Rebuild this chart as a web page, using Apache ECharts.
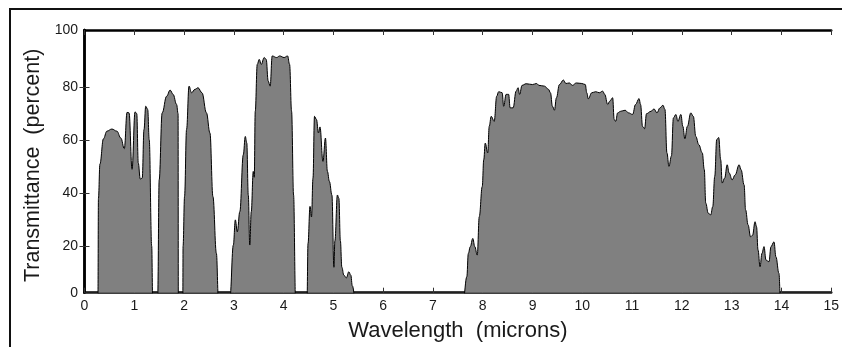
<!DOCTYPE html>
<html>
<head>
<meta charset="utf-8">
<script src="https://cdn.jsdelivr.net/npm/echarts@6/dist/echarts.min.js"></script>
<style>
  html, body { margin: 0; padding: 0; background: #fff; }
  #wrap { position: relative; width: 842px; height: 347px; overflow: hidden; }
  #frame { position: absolute; left: 9px; top: 8px; right: -4px; bottom: -4px;
           border-left: 2px solid #111; border-top: 2px solid #111; pointer-events: none; }
  #chart { position: absolute; left: 0; top: 0; width: 842px; height: 347px; }
</style>
</head>
<body>
<div id="wrap">
  <div id="chart"></div>
  <div id="frame"></div>
</div>
<script>
// wavelength in microns, transmittance in percent
const wavelength = [
  0, 0.27, 0.28, 0.31, 0.38, 0.45, 0.55, 0.65, 0.73, 0.80, 0.855, 0.895, 0.955, 1.015, 1.05,
  1.08, 1.12, 1.16, 1.195, 1.23, 1.27, 1.30, 1.35, 1.37,
  1.47, 1.50, 1.56, 1.65, 1.72, 1.78, 1.85, 1.88, 1.885,
  1.975, 1.98, 2.01, 2.05, 2.10, 2.15, 2.22, 2.28, 2.36, 2.45, 2.52, 2.58, 2.65, 2.69,
  2.92, 2.99, 3.03, 3.07, 3.12, 3.19, 3.23, 3.26, 3.29, 3.32, 3.35, 3.39, 3.41, 3.43, 3.47,
  3.51, 3.55, 3.61, 3.65, 3.69, 3.73, 3.77, 3.86, 3.92, 4.01, 4.08, 4.12, 4.16, 4.20, 4.24,
  4.47, 4.49, 4.53, 4.56, 4.59, 4.62, 4.66, 4.70, 4.73, 4.79, 4.84, 4.88, 4.92, 4.97, 5.01,
  5.03, 5.08, 5.11, 5.14, 5.17, 5.21, 5.26, 5.31, 5.35, 5.38, 5.44,
  7.61, 7.68, 7.71, 7.75, 7.80, 7.84, 7.89, 7.93, 7.99, 8.02, 8.05, 8.10, 8.13, 8.17, 8.23,
  8.28, 8.32, 8.39, 8.42, 8.47, 8.52, 8.55, 8.61, 8.67, 8.71, 8.74, 8.79, 8.87, 9.00, 9.08,
  9.13, 9.24, 9.32, 9.36, 9.40, 9.44, 9.48, 9.54, 9.62, 9.67, 9.74, 9.80, 9.88, 9.99, 10.06,
  10.09, 10.12, 10.19, 10.27, 10.34, 10.41, 10.45, 10.51, 10.55, 10.61, 10.64, 10.67, 10.71,
  10.77, 10.86, 10.93, 11.01, 11.07, 11.14, 11.17, 11.21, 11.25, 11.29, 11.38, 11.44, 11.50,
  11.56, 11.62, 11.66, 11.70, 11.74, 11.79, 11.83, 11.88, 11.92, 11.98, 12.02, 12.06, 12.11,
  12.18, 12.23, 12.28, 12.34, 12.41, 12.45, 12.48, 12.53, 12.58, 12.62, 12.66, 12.70, 12.74,
  12.78, 12.81, 12.86, 12.91, 12.95, 13.01, 13.07, 13.15, 13.19, 13.25, 13.28, 13.33, 13.38,
  13.42, 13.47, 13.50, 13.53, 13.57, 13.61, 13.65, 13.69, 13.75, 13.79, 13.85, 13.89, 13.95,
  13.98, 15
];
const transmittance = [
  0, 0, 38, 51, 60.5, 63.4, 64.2, 63.4, 60.8, 56.8, 70.5, 70.3, 49, 70.7, 70,
  51.4, 45.3, 45.7, 64, 72.8, 71.6, 60.2, 20, 0,
  0, 45, 70.3, 76.6, 78.9, 77.3, 73.5, 70, 0,
  0, 20, 38.7, 64, 80.4, 77.9, 79.2, 79.8, 77.9, 70.3, 62.7, 38.7, 17.2, 0,
  0, 20.4, 29.9, 25.4, 33, 54.5, 61.4, 59, 39.3, 20.4, 33, 48.2, 46, 70.9, 88.6,
  90.5, 88.6, 91.2, 90.5, 82.3, 80.4, 91.8, 91.2, 91.8, 91.2, 91.8, 88.6, 70.9, 39.3, 0,
  0, 21, 35, 31, 45.7, 69, 67.8, 62.7, 65, 52, 60.8, 48.2, 44.4, 39.3, 12,
  22, 39.3, 38, 22, 12, 9, 8, 10.3, 9, 5, 0,
  0, 8.4, 17.2, 19.8, 22.9, 19.8, 16.6, 31.1, 42.5, 52.6, 58.9, 55.2, 65.2, 69, 67.1,
  76.6, 78.3, 77.9, 72.8, 77.3, 77.3, 72.2, 72.2, 78.5, 79.8, 77.3, 80.7, 81.3, 81, 81.4,
  80.7, 80.4, 79.2, 77.9, 72.8, 71.3, 76, 81, 82.7, 81.4, 81.6, 80.7, 81.6, 81.4, 81,
  77.9, 75.6, 77.9, 78.3, 77.9, 78.5, 77.3, 73.5, 74.7, 76, 67.8, 67.1, 70.3,
  70.9, 71.3, 70.3, 69.7, 73.5, 75.7, 73.5, 65.2, 64.3, 70, 70.9, 71.8, 70.3,
  72.2, 73.2, 71.6, 55.2, 50.1, 54, 68.4, 69.7, 67.1, 69.7, 65.2, 60.5, 65.2,
  70.3, 69, 61.4, 58.3, 55.2, 48.9, 36.2, 32.4, 31.8, 34.9, 46.3, 60.2, 61,
  52.6, 43.8, 45.7, 50.7, 47.6, 45, 46.9, 50.7, 48.8, 43.1, 33.7, 28, 23.5,
  24.1, 29.2, 27.3, 18.5, 12.2, 17.3, 19.8, 14.7, 14.1, 19.8, 21.6, 15.9, 9.7,
  0, 0
];
// tick labels
const xTicks = [0, 1, 2, 3, 4, 5, 6, 7, 8, 9, 10, 11, 12, 13, 14, 15];
const yTicks = [20, 40, 60, 80];
const yLabels = ['0', '20', '40', '60', '80', '100'];

// the frame of the original plot does not sit exactly on 0 and 100
const yBottom = 2.4;
const yTop = 101.6;

const chart = echarts.init(document.getElementById('chart'));
const font = '"Liberation Sans", Arial, sans-serif';
const textColor = '#1a1a1a';
const lineStyle = { color: '#000', width: 2.5 };

const yLabelAt = (v) => (v <= yBottom + 0.01 ? yLabels[0] : v >= yTop - 0.01 ? yLabels[5] : String(v));

chart.setOption({
  animation: false,
  grid: { left: 84.5, right: 9.5, top: 30, bottom: 54.3 },
  xAxis: [
    {
      type: 'value',
      min: 0,
      max: 15,
      interval: 1,
      name: 'Wavelength  (microns)',
      nameLocation: 'middle',
      nameGap: 27,
      nameTextStyle: { fontFamily: font, fontSize: 22, color: textColor },
      axisLine: { lineStyle },
      axisTick: { inside: true, length: 5, lineStyle: { color: '#333', width: 1 } },
      axisLabel: {
        fontFamily: font, fontSize: 14, color: textColor, margin: 6,
        customValues: xTicks
      },
      splitLine: { show: false }
    },
    {
      type: 'value',
      position: 'top',
      min: 0,
      max: 15,
      interval: 1,
      axisLine: { lineStyle },
      axisTick: { inside: true, length: 5, lineStyle: { color: '#333', width: 1 } },
      axisLabel: { show: false },
      splitLine: { show: false }
    }
  ],
  yAxis: [
    {
      type: 'value',
      min: yBottom,
      max: yTop,
      name: 'Transmittance  (percent)',
      nameLocation: 'middle',
      nameGap: 40,
      nameTextStyle: { fontFamily: font, fontSize: 21.5, color: textColor, padding: [0, 8, 0, 0] },
      axisLine: { show: true, lineStyle },
      axisTick: { show: true, inside: true, length: 5, lineStyle: { color: '#333', width: 1 }, customValues: yTicks },
      axisLabel: {
        fontFamily: font, fontSize: 14, color: textColor, margin: 6.5,
        customValues: [yBottom].concat(yTicks, [yTop]),
        formatter: yLabelAt
      },
      splitLine: { show: false }
    },
    {
      type: 'value',
      position: 'right',
      min: yBottom,
      max: yTop,
      axisLine: { show: true, lineStyle },
      axisTick: { show: true, inside: true, length: 5, lineStyle: { color: '#333', width: 1 }, customValues: yTicks },
      axisLabel: { show: false },
      splitLine: { show: false }
    }
  ],
  series: [
    {
      type: 'line',
      data: wavelength.map((w, i) => [w, transmittance[i]]),
      smooth: 0.4,
      smoothMonotone: 'x',
      showSymbol: false,
      clip: true,
      lineStyle: { color: '#000', width: 1 },
      areaStyle: { color: '#808080', opacity: 1 },
      z: 1
    }
  ]
});
</script>
</body>
</html>
